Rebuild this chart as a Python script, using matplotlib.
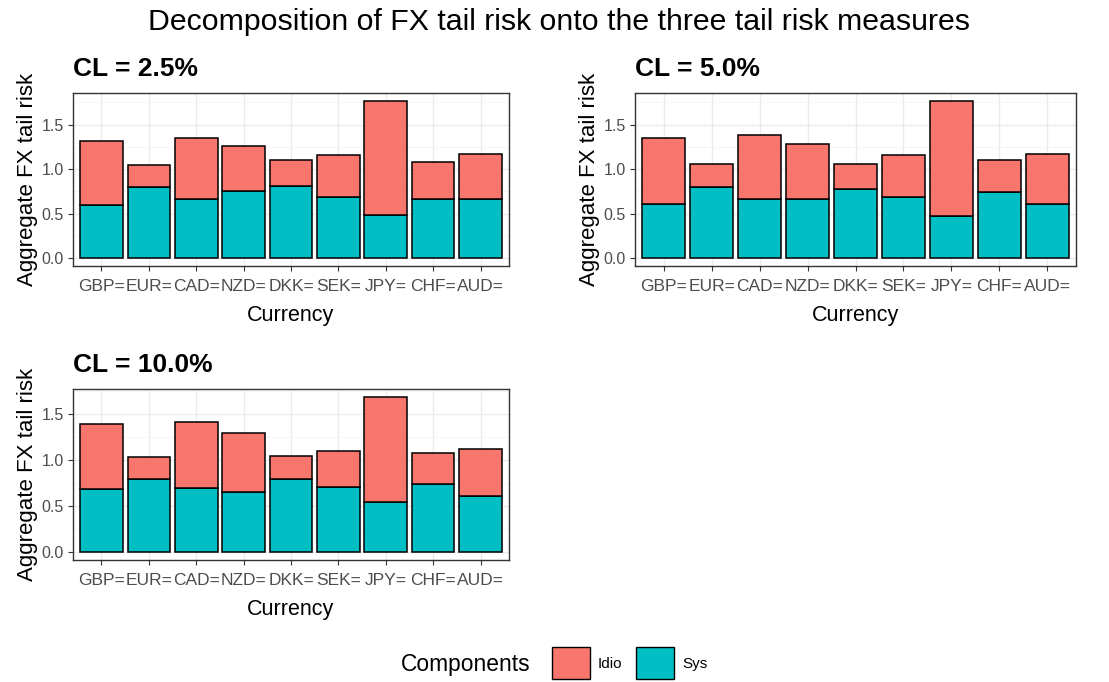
import matplotlib
matplotlib.use("Agg")
import matplotlib.pyplot as plt
from matplotlib.patches import Patch
import numpy as np

plt.rcParams["font.family"] = ["Liberation Sans", "DejaVu Sans"]

currencies = ["GBP=", "EUR=", "CAD=", "NZD=", "DKK=", "SEK=", "JPY=", "CHF=", "AUD="]
panel_titles = ["CL = 2.5%", "CL = 5.0%", "CL = 10.0%"]

total_25 = [1.32, 1.05, 1.35, 1.26, 1.10, 1.155, 1.766, 1.08, 1.17]
sys_25 = [0.60, 0.795, 0.664, 0.754, 0.81, 0.69, 0.487, 0.66, 0.66]

total_50 = [1.35, 1.061, 1.387, 1.279, 1.061, 1.155, 1.766, 1.10, 1.17]
sys_50 = [0.607, 0.795, 0.664, 0.664, 0.772, 0.69, 0.472, 0.739, 0.607]

total_100 = [1.392, 1.033, 1.417, 1.288, 1.048, 1.10, 1.686, 1.08, 1.123]
sys_100 = [0.682, 0.789, 0.70, 0.649, 0.789, 0.703, 0.545, 0.739, 0.614]

totals = [total_25, total_50, total_100]
syss = [sys_25, sys_50, sys_100]

IDIO = "#F8766D"
SYS = "#00BFC4"

W, H = 1109, 682
fig = plt.figure(figsize=(W / 100, H / 100), dpi=100)

def ax_at(x0, y0, x1, y1):
    return fig.add_axes([x0 / W, 1 - y1 / H, (x1 - x0) / W, (y1 - y0) / H])

boxes = [(73, 93, 509, 266), (635, 93, 1076, 266), (73, 389, 509, 560)]

for i, (box, tot, sy, ttl) in enumerate(zip(boxes, totals, syss, panel_titles)):
    ax = ax_at(*box)
    x = np.arange(1, len(currencies) + 1)
    tot = np.array(tot)
    sy = np.array(sy)
    idio = tot - sy
    ax.bar(x, sy, width=0.9, color=SYS, edgecolor="black", linewidth=1.1, zorder=3)
    ax.bar(x, idio, bottom=sy, width=0.9, color=IDIO, edgecolor="black", linewidth=1.1, zorder=3)
    ax.set_xlim(0.4, len(currencies) + 0.6)
    ymax = tot.max()
    ax.set_ylim(-0.05 * ymax, 1.05 * ymax)
    ax.set_xticks(x)
    ax.set_xticklabels(currencies)
    ax.set_yticks([0.0, 0.5, 1.0, 1.5])
    ax.set_yticklabels(["0.0", "0.5", "1.0", "1.5"])
    ax.set_yticks([0.25, 0.75, 1.25, 1.75], minor=True)
    ax.grid(True, which="major", color="#EBEBEB", linewidth=1.0, zorder=0)
    ax.grid(True, which="minor", axis="y", color="#F4F4F4", linewidth=0.6, zorder=0)
    ax.set_axisbelow(True)
    ax.tick_params(axis="x", which="major", labelsize=12.5, pad=6)
    ax.tick_params(axis="y", which="major", labelsize=11.5, pad=3)
    ax.tick_params(axis="both", which="major", colors="#333333", labelcolor="#4D4D4D",
                   length=3.5, width=0.8)
    ax.tick_params(axis="both", which="minor", length=0)
    for s in ax.spines.values():
        s.set_color("#333333")
        s.set_linewidth(1.0)
    ax.set_xlabel("Currency", fontsize=15.5, color="black", labelpad=8)
    ax.set_ylabel("Aggregate FX tail risk", fontsize=16, color="black", labelpad=3)
    ax.set_title(ttl, loc="left", fontsize=19, fontweight="bold", pad=12, x=0.0)

fig.text(559 / W, 1 - 22 / H, "Decomposition of FX tail risk onto the three tail risk measures",
         ha="center", va="center", fontsize=21.8)

# legend
fig.text(530 / W, 1 - 664 / H, "Components", ha="right", va="center", fontsize=16.4)
handles = [Patch(facecolor=IDIO, edgecolor="black", label="Idio"),
           Patch(facecolor=SYS, edgecolor="black", label="Sys")]
leg = fig.legend(handles=handles, loc="center left", bbox_to_anchor=(544 / W, 1 - 663 / H),
                 ncol=2, frameon=False, fontsize=11, borderpad=0,
                 handlelength=2.5, handleheight=2.8,
                 handletextpad=0.52, columnspacing=0.9)

fig.savefig("out.png", dpi=100)
